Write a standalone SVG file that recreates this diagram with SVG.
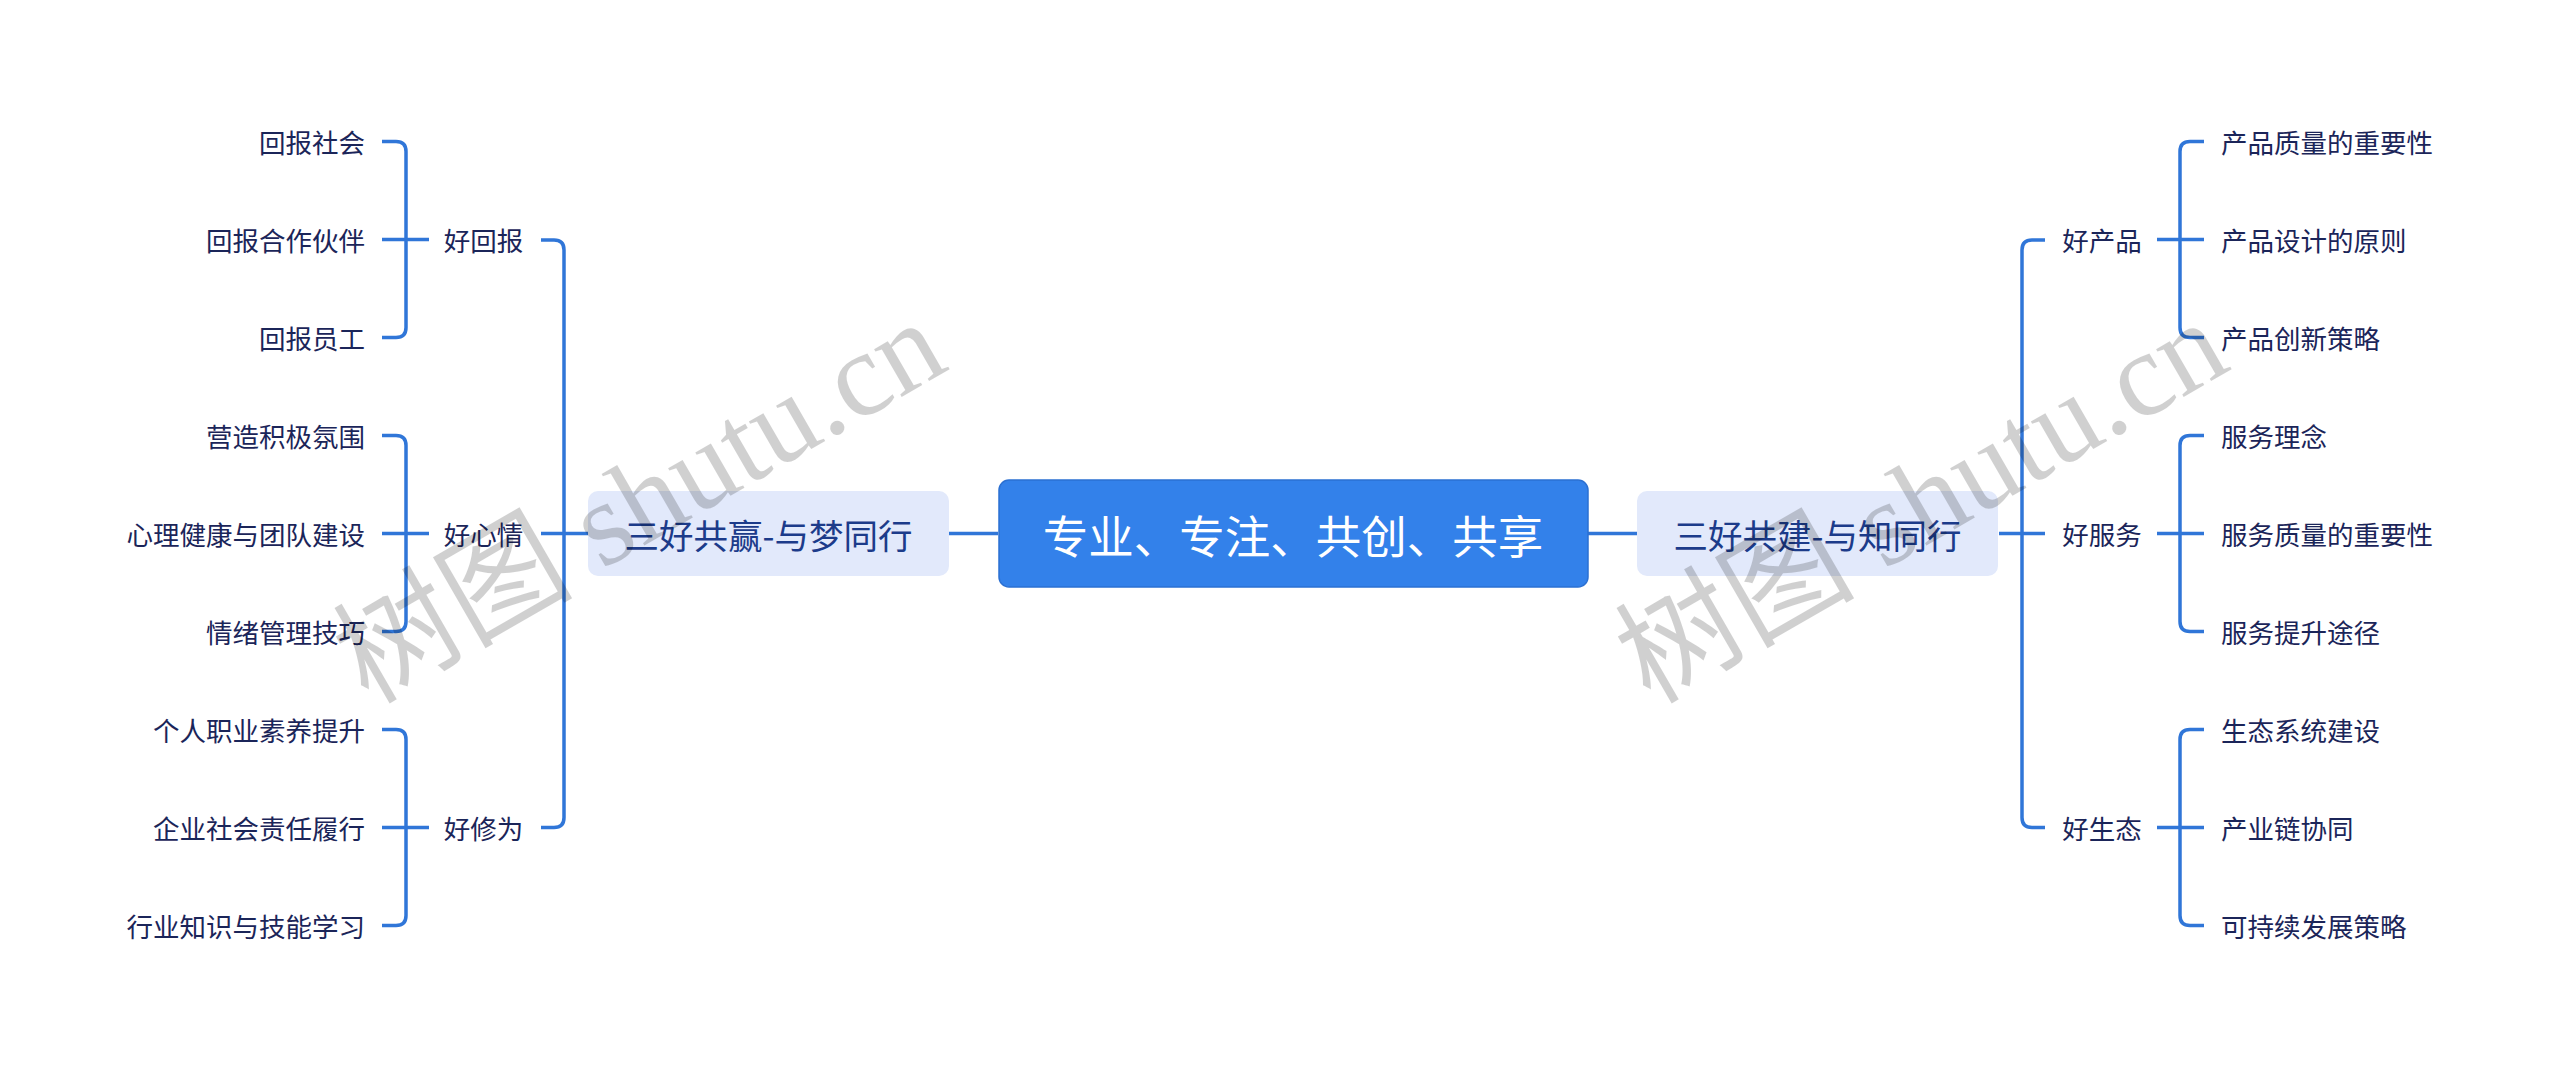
<svg xmlns="http://www.w3.org/2000/svg" width="2560" height="1067" viewBox="0 0 2560 1067">
<style>
.c{fill:none;stroke:#3076d8;stroke-width:3.5}
.t{font-family:"Noto Sans CJK SC","Noto Sans",sans-serif;dominant-baseline:central}
.leaf{font-size:26.5px;fill:#1b2559}
.mid{font-size:26.5px;fill:#1b2559;text-anchor:middle}
.main{font-size:34.5px;fill:#1c3b8a;text-anchor:middle}
.root{font-size:45.5px;fill:#ffffff;text-anchor:middle}
.mbox{fill:#e2e9fb}
.wm{font-family:"Liberation Serif","Noto Sans CJK SC",serif;font-size:120px;fill:#000;opacity:0.18}
</style>
<rect width="2560" height="1067" fill="#ffffff"/>
<g id="connectors">
<path class="c" d="M949 533.5H998M1588 533.5H1637"/>
<path class="c" d="M541 240H554Q564 240 564 250V817.5Q564 827.5 554 827.5H541M541 533.5H588"/>
<path class="c" d="M2045 240H2032Q2022 240 2022 250V817.5Q2022 827.5 2032 827.5H2045M1999 533.5H2045"/>
<path class="c" d="M382 141.5H396Q406 141.5 406 151.5V327.5Q406 337.5 396 337.5H382M382 239.5H429"/>
<path class="c" d="M382 435.5H396Q406 435.5 406 445.5V621.5Q406 631.5 396 631.5H382M382 533.5H429"/>
<path class="c" d="M382 729.5H396Q406 729.5 406 739.5V915.5Q406 925.5 396 925.5H382M382 827.5H429"/>
<path class="c" d="M2204 141.5H2190Q2180 141.5 2180 151.5V327.5Q2180 337.5 2190 337.5H2204M2157 239.5H2204"/>
<path class="c" d="M2204 435.5H2190Q2180 435.5 2180 445.5V621.5Q2180 631.5 2190 631.5H2204M2157 533.5H2204"/>
<path class="c" d="M2204 729.5H2190Q2180 729.5 2180 739.5V915.5Q2180 925.5 2190 925.5H2204M2157 827.5H2204"/>
</g>
<g id="root">
<rect x="999" y="480" width="589" height="107" rx="10" fill="#3381ea" stroke="#2b70d2" stroke-width="1.5"/>
<text class="t root" x="1293" y="533.5">专业、专注、共创、共享</text>
</g>
<g id="n-left">
<rect class="mbox" x="588" y="491" width="361" height="85" rx="10"/>
<text class="t main" x="768.5" y="533.5">三好共赢-与梦同行</text>
</g>
<g id="n-right">
<rect class="mbox" x="1637" y="491" width="361" height="85" rx="10"/>
<text class="t main" x="1817.5" y="533.5">三好共建-与知同行</text>
</g>
<g id="mid-left">
<text class="t mid" x="483.5" y="239.5">好回报</text>
<text class="t mid" x="483.5" y="533.5">好心情</text>
<text class="t mid" x="483.5" y="827.5">好修为</text>
</g>
<g id="mid-right">
<text class="t mid" x="2102" y="239.5">好产品</text>
<text class="t mid" x="2102" y="533.5">好服务</text>
<text class="t mid" x="2102" y="827.5">好生态</text>
</g>
<g id="leaves-left" text-anchor="end">
<text class="t leaf" x="365" y="141.5">回报社会</text>
<text class="t leaf" x="365" y="239.5">回报合作伙伴</text>
<text class="t leaf" x="365" y="337.5">回报员工</text>
<text class="t leaf" x="365" y="435.5">营造积极氛围</text>
<text class="t leaf" x="365" y="533.5">心理健康与团队建设</text>
<text class="t leaf" x="365" y="631.5">情绪管理技巧</text>
<text class="t leaf" x="365" y="729.5">个人职业素养提升</text>
<text class="t leaf" x="365" y="827.5">企业社会责任履行</text>
<text class="t leaf" x="365" y="925.5">行业知识与技能学习</text>
</g>
<g id="leaves-right">
<text class="t leaf" x="2221" y="141.5">产品质量的重要性</text>
<text class="t leaf" x="2221" y="239.5">产品设计的原则</text>
<text class="t leaf" x="2221" y="337.5">产品创新策略</text>
<text class="t leaf" x="2221" y="435.5">服务理念</text>
<text class="t leaf" x="2221" y="533.5">服务质量的重要性</text>
<text class="t leaf" x="2221" y="631.5">服务提升途径</text>
<text class="t leaf" x="2221" y="729.5">生态系统建设</text>
<text class="t leaf" x="2221" y="827.5">产业链协同</text>
<text class="t leaf" x="2221" y="925.5">可持续发展策略</text>
</g>
<g id="watermarks">
<text class="wm" transform="translate(368 705) rotate(-30)">树图 shutu.cn</text>
<text class="wm" transform="translate(1650 705) rotate(-30)">树图 shutu.cn</text>
</g>
</svg>
